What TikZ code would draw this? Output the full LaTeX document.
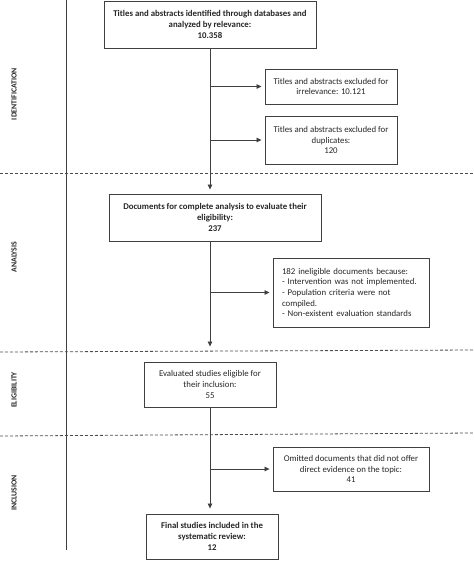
\documentclass[tikz,border=0pt]{standalone}
\usepackage{fontspec}
\setmainfont{Carlito}
\usetikzlibrary{arrows.meta}
\begin{document}
\begin{tikzpicture}[x=1pt,y=-1pt,
           box_style/.style={draw=black!75,line width=0.9pt,inner sep=0pt,align=center,
             font=\fontsize{8.8}{10.6}\selectfont,text=black!85},
           box_bold/.style={box_style,font=\fontsize{8.8}{10.6}\selectfont\bfseries},
           phase_style/.style={rotate=90,font=\fontsize{7.8}{9}\selectfont\bfseries,text=black!85},
           edge_style/.style={draw=black!75,line width=0.8pt,-{Triangle[length=5pt,width=4.5pt]}},
           sep_style/.style={draw=black!70,line width=0.8pt,dash pattern=on 3pt off 2pt}]
            \useasboundingbox (0,0) rectangle (474,563);
            % phases
            \draw[black!75,line width=0.8pt] (66,0) -- (66,550);
            \draw[sep_style] (0,173) -- (474,173);
            \draw[sep_style] (0,352) -- (474,350);
            \draw[sep_style] (0,436) -- (474,433);
            \node[phase_style] (p1) at (14,94)  {IDENTIFICATION};
            \node[phase_style] (p2) at (14,257) {ANALYSIS};
            \node[phase_style] (p3) at (14,390) {ELIGIBILITY};
            \node[phase_style] (p4) at (14,493) {INCLUSION};
            % boxes
            \node[box_bold,minimum width=212pt,minimum height=47pt] (v0) at (210,24.5)
              {Titles and abstracts identified through databases and\\analyzed by relevance:\\10.358};
            \node[box_style,minimum width=132pt,minimum height=35pt] (v1) at (331,86.5)
              {Titles and abstracts excluded for\\irrelevance: 10.121};
            \node[box_style,minimum width=132pt,minimum height=48pt] (v2) at (331,140)
              {Titles and abstracts excluded for\\duplicates:\\120};
            \node[box_bold,minimum width=212pt,minimum height=47pt] (v3) at (215,217.5)
              {Documents for complete analysis to evaluate their\\eligibility:\\237};
            \node[box_style,minimum width=156pt,minimum height=69pt,align=left,text width=138pt] (v4) at (351,292.5)
              {182 ineligible documents because:\\- Intervention was not implemented.\\- Population criteria were not\\compiled.\\- Non-existent evaluation standards};
            \node[box_style,minimum width=132pt,minimum height=45pt] (v5) at (210,384.5)
              {Evaluated studies eligible for\\their inclusion:\\55};
            \node[box_style,minimum width=156pt,minimum height=44pt] (v6) at (351,469)
              {Omitted documents that did not offer\\direct evidence on the topic:\\41};
            \node[box_bold,minimum width=132pt,minimum height=45pt] (v7) at (212,536.5)
              {Final studies included in the\\systematic review:\\12};
            % connectors
            \draw[edge_style,shorten >=4pt] (v0.south) -- (v0.south |- v3.north);
            \draw[edge_style,shorten >=3pt] (v0.south |- v1.west) -- (v1.west);
            \draw[edge_style,shorten >=3pt] (v0.south |- v2.west) -- (v2.west);
            \draw[edge_style,shorten >=15pt] (v0.south |- v3.south) -- (v0.south |- v5.north);
            \draw[edge_style,shorten >=3pt] (v0.south |- v4.west) -- (v4.west);
            \draw[edge_style,shorten >=5pt] (v5.south) -- (v5.south |- v7.north);
            \draw[edge_style,shorten >=3pt] (v5.south |- v6.west) -- (v6.west);
        \end{tikzpicture}
\end{document}
